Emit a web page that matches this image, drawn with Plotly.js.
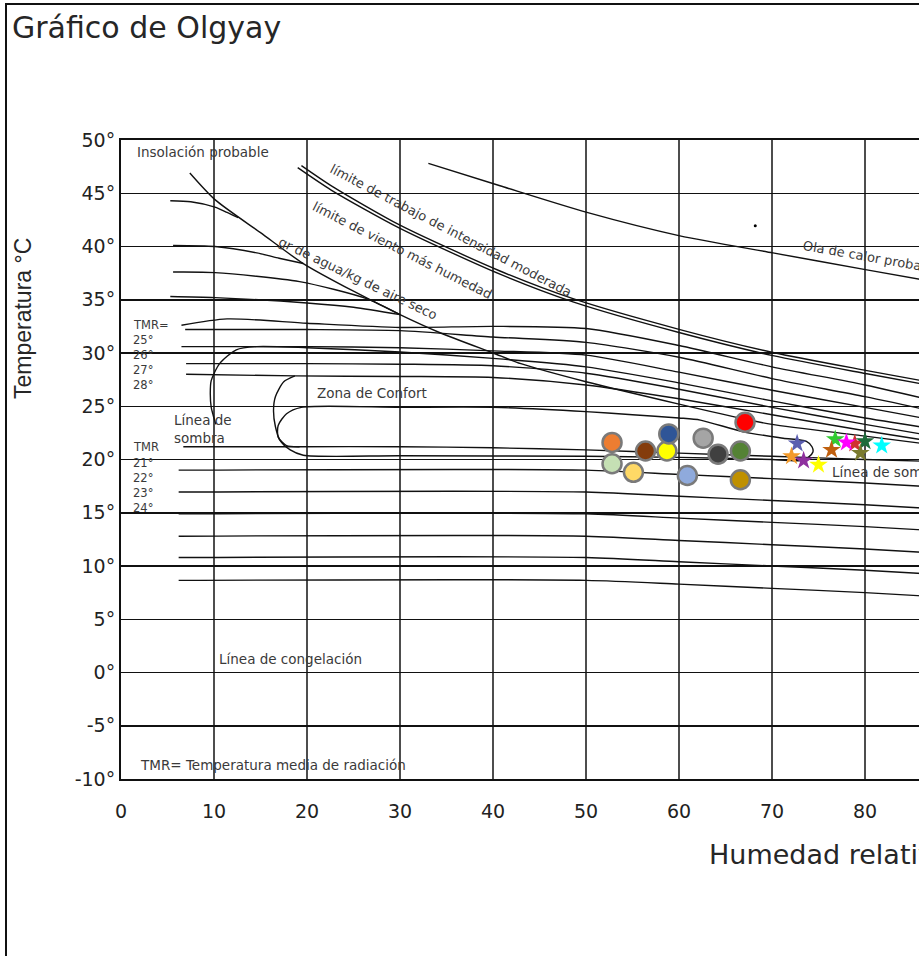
<!DOCTYPE html>
<html>
<head>
<meta charset="utf-8">
<script src="https://cdn.plot.ly/plotly-3.0.1.min.js"></script>
<style>
html,body{margin:0;padding:0;overflow:hidden;background:#fff;width:919px;height:956px;}
#frame{position:absolute;left:5px;top:3px;width:1200px;height:1100px;border-left:2px solid #111;border-top:2px solid #111;}
#chart{position:absolute;left:0;top:0;width:1100px;height:960px;}
</style>
</head>
<body>
<div id="frame"><div id="chart"></div></div>
<script>
// ---- axis ticks ----
const xTickVals = [0,10,20,30,40,50,60,70,80];
const xTickText = ['0','10','20','30','40','50','60','70','80'];
const yTickVals = [-10,-5,0,5,10,15,20,25,30,35,40,45,50];
const yTickText = ['-10°','-5°','0°','5°','10°','15°','20°','25°','30°','35°','40°','45°','50°'];

// ---- Olgyay chart curves (humidity %, temperature °C) ----
const steepX = [7.4,10.1,15,19.6,25,30,34.3,40,43,50,60,67,70,80,88];
const steepT = [46.9,44.4,41.3,38.4,35.8,33.6,31.9,30.0,29.0,27.3,25.2,23.8,23.3,22.2,21.3];
const limTrabX = [19.4,22.8,30,40.75,48.6,60.1,70.1,80.2,88];
const limTrabT = [47.6,45.6,42.0,37.7,35.1,32.2,30.05,28.35,27.1];
const limVientoX = [19.0,22.6,30,40.75,48.6,60.1,70.1,80.2,88];
const limVientoT = [47.4,45.3,41.7,37.4,34.8,31.9,29.75,28.05,26.8];
const olaX = [33.05,40.75,50.1,60.1,70.1,80.2,88];
const olaT = [47.8,45.7,43.2,41.0,39.4,37.8,36.6];
const c44X = [5.3,7.5,10.1,11.4,12.6];
const c44T = [44.3,44.2,43.7,43.2,42.7];
const c40X = [5.6,10.1,14.6,17,19.6];
const c40T = [40.1,40.0,39.4,38.9,38.4];
const c37X = [5.6,10.1,19.2,26.4,30];
const c37T = [37.6,37.55,36.7,35.1,33.6];
const c35X = [5.3,10.1,20,25,30];
const c35T = [35.3,35.2,34.7,34.3,33.6];
const tmrAX = [6.5,11.4,20,30,40,50,60,70,80,88];
const tmrAT = [32.6,33.2,32.8,32.4,32.5,32.3,30.7,28.7,27.0,25.4];
const tmrBX = [6.9,20,30,40,50,60,70,80,88];
const tmrBT = [32.2,32.2,32.1,31.5,31.0,29.6,27.6,25.9,24.4];
const tmrCX = [6.5,20,30,40,50,60,70,80,88];
const tmrCT = [30.6,30.6,30.5,30.2,29.8,28.2,26.5,24.9,23.6];
const sombraX = [10.2,9.9,9.7,9.6,9.7,10.6,12.4,14.6,20,30,40,50,60,70,80,88];
const sombraT = [23.3,24.2,24.9,26.2,27.4,29.0,30.3,30.6,30.5,30.1,29.5,28.7,27.2,25.5,23.9,22.8];
const tmrDX = [7.0,20,30,40,50,60,70,80,88];
const tmrDT = [29.0,29.0,28.95,28.8,28.1,26.6,24.9,23.3,22.1];
const tmrEX = [7.0,18.7,30,40,50,60,70,80,88];
const tmrET = [28.0,27.85,27.8,27.7,27.0,25.7,24.2,22.7,21.6];
const confLowX = [18.7,17.5,16.6,16.4,16.6,17.1,18.2,19.6,30,50,60,70,72];
const confLowT = [27.85,27.3,25.9,24.6,23.1,21.8,20.9,20.4,20.35,20.3,20.2,20.0,19.9];
const confX = [19.2,17.8,16.9,16.9,17.8,19.4,30,40,50,55,60,62.3,66.9,71.2,73.7,74.3,74.4,73.9,73,72];
const confT = [21.2,21.3,22.1,23.2,24.3,24.9,24.9,24.9,24.5,24.2,23.9,23.7,22.6,22.0,21.7,21.2,20.7,20.2,19.9,19.9];
const tmr21X = [6.7,19.2,30,40,50,60,70,80,88];
const tmr21T = [21.2,21.2,21.2,21.1,20.9,20.6,20.3,20.0,19.8];
const lowX = [6.2,50,60,70,80,88];
const low22T = [19.0,19.0,18.6,18.2,17.8,17.4];
const low23T = [16.95,16.95,16.55,16.15,15.75,15.35];
const low24T = [14.9,14.9,14.5,14.1,13.7,13.3];
const low25T = [12.8,12.8,12.4,12.0,11.6,11.2];
const low26T = [10.8,10.8,10.4,10.0,9.6,9.2];
const low27T = [8.65,8.65,8.3,7.9,7.5,7.1];

// ---- measured points ----
const bigX = [52.8,52.8,55.1,56.4,58.7,58.9,60.9,62.6,64.2,66.6,67.1,66.6];
const bigT = [21.6,19.6,18.8,20.8,20.8,22.4,18.5,22.0,20.5,20.8,23.5,18.1];
const bigColors = ['#ED7D31','#C5E0B4','#FFD966','#843C0C','#FFFF00','#2F5597','#8FAADC','#A5A5A5','#404040','#548235','#FF0000','#BF9000'];
const smallX = [76.8,78.9,72.7,72.1,73.4,75.0,76.4,78.0,80.0,79.5,81.8];
const smallT = [21.9,21.5,21.5,20.3,19.9,19.5,20.9,21.6,21.7,20.6,21.3];
const smallColors = ['#33CC33','#D03030','#5B5EB0','#F39A2A','#8E2F9E','#FFFF00','#C0600F','#FF00FF','#1E6B3A','#7A7A2E','#00FFFF'];
const dotX = [68.2];
const dotT = [41.96];

// ---- build traces ----
const curves = [
  [steepX,steepT],[limTrabX,limTrabT],[limVientoX,limVientoT],[olaX,olaT],
  [c44X,c44T],[c40X,c40T],[c37X,c37T],[c35X,c35T],
  [tmrAX,tmrAT],[tmrBX,tmrBT],[tmrCX,tmrCT],[sombraX,sombraT],[tmrDX,tmrDT],[tmrEX,tmrET],
  [confLowX,confLowT],[confX,confT],[tmr21X,tmr21T],
  [lowX,low22T],[lowX,low23T],[lowX,low24T],[lowX,low25T],[lowX,low26T],[lowX,low27T]
];
const traces = curves.map(c => ({
  x: c[0], y: c[1], type: 'scatter', mode: 'lines', hoverinfo: 'skip',
  line: {color: '#111', width: 1.4, shape: 'spline', smoothing: 0.7}
}));
traces.push({x: dotX, y: dotT, type: 'scatter', mode: 'markers', marker: {size: 3, color: '#000'}});
traces.push({x: smallX, y: smallT, type: 'scatter', mode: 'markers',
  marker: {symbol: 'star', size: 14, color: smallColors, line: {width: 0}}});
traces.push({x: bigX, y: bigT, type: 'scatter', mode: 'markers',
  marker: {symbol: 'circle', size: 19, color: bigColors, line: {color: '#7a7a7a', width: 2.5}}});

const lblFont = {family: 'DejaVu Sans', size: 13.5, color: '#3a3a3a'};
const rotFont = {family: 'DejaVu Sans', size: 13, color: '#3a3a3a'};
const tmrFont = {family: 'DejaVu Sans', size: 11.5, color: '#3a3a3a'};
function lbl(text, x, y, opts) {
  return Object.assign({text: text, x: x, y: y, xref: 'x', yref: 'y', showarrow: false,
    xanchor: 'left', yanchor: 'middle', align: 'left', font: lblFont}, opts || {});
}
const annotations = [
  {text: 'Gráfico de Olgyay', xref: 'paper', yref: 'paper', x: -0.1194, y: 1.1768,
   xanchor: 'left', yanchor: 'middle', showarrow: false,
   font: {family: 'DejaVu Sans', size: 30, color: '#262626'}},
  {text: 'Temperatura °C', xref: 'paper', yref: 'paper', x: -0.1054, y: 0.7214,
   xanchor: 'center', yanchor: 'middle', textangle: -90, showarrow: false,
   font: {family: 'Liberation Sans', size: 23, color: '#262626'}},
  {text: 'Humedad relativa (%)', xref: 'paper', yref: 'paper', x: 0.6301, y: -0.1189,
   xanchor: 'left', yanchor: 'middle', showarrow: false,
   font: {family: 'DejaVu Sans', size: 27, color: '#262626'}},
  lbl('Insolación probable', 1.5, 48.87),
  lbl('límite de trabajo de intensidad moderada', 35.46, 41.54, {xanchor: 'center', textangle: 27.6, font: rotFont}),
  lbl('límite de viento más humedad', 30.27, 39.66, {xanchor: 'center', textangle: 26.8, font: rotFont}),
  lbl('gr de agua/kg de aire seco', 25.5, 37.0, {xanchor: 'center', textangle: 25.6, font: rotFont}),
  lbl('Ola de calor probable', 80.75, 38.94, {xanchor: 'center', textangle: 10, font: rotFont}),
  lbl('TMR=', 1.1, 32.6, {font: tmrFont}),
  lbl('25°', 1.1, 31.2, {font: tmrFont}),
  lbl('26°', 1.1, 29.8, {font: tmrFont}),
  lbl('27°', 1.1, 28.4, {font: tmrFont}),
  lbl('28°', 1.1, 27.0, {font: tmrFont}),
  lbl('Zona de Confort', 27.04, 26.22, {xanchor: 'center'}),
  lbl('Línea de<br>sombra', 5.45, 22.9),
  lbl('TMR', 1.1, 21.2, {font: tmrFont}),
  lbl('21°', 1.1, 19.65, {font: tmrFont}),
  lbl('22°', 1.1, 18.3, {font: tmrFont}),
  lbl('23°', 1.1, 16.85, {font: tmrFont}),
  lbl('24°', 1.1, 15.45, {font: tmrFont}),
  lbl('Línea de sombra', 76.24, 18.8),
  lbl('Línea de congelación', 10.3, 1.29),
  lbl('TMR= Temperatura media de radiación', 1.86, -8.65)
];

const axisFont = {family: 'DejaVu Sans', size: 19, color: '#222'};
const layout = {
  width: 1100, height: 960,
  margin: {l: 114, r: 56, t: 135, b: 186},
  paper_bgcolor: '#fff', plot_bgcolor: '#fff',
  showlegend: false,
  xaxis: {range: [0, 100], tickvals: xTickVals, ticktext: xTickText, ticks: '',
    showgrid: true, gridcolor: '#4d4d4d', gridwidth: 2.4, zeroline: false,
    showline: true, linecolor: '#111', linewidth: 2, mirror: true,
    tickfont: axisFont, ticklabelstandoff: 14, fixedrange: true},
  yaxis: {range: [-10, 50], tickvals: yTickVals, ticktext: yTickText, ticks: '',
    showgrid: true, gridcolor: '#111', gridwidth: 1.5, zeroline: false,
    showline: true, linecolor: '#111', linewidth: 2, mirror: true,
    tickfont: axisFont, ticklabelstandoff: 0, fixedrange: true},
  annotations: annotations
};
Plotly.newPlot('chart', traces, layout, {staticPlot: true, displayModeBar: false});
</script>
</body>
</html>
